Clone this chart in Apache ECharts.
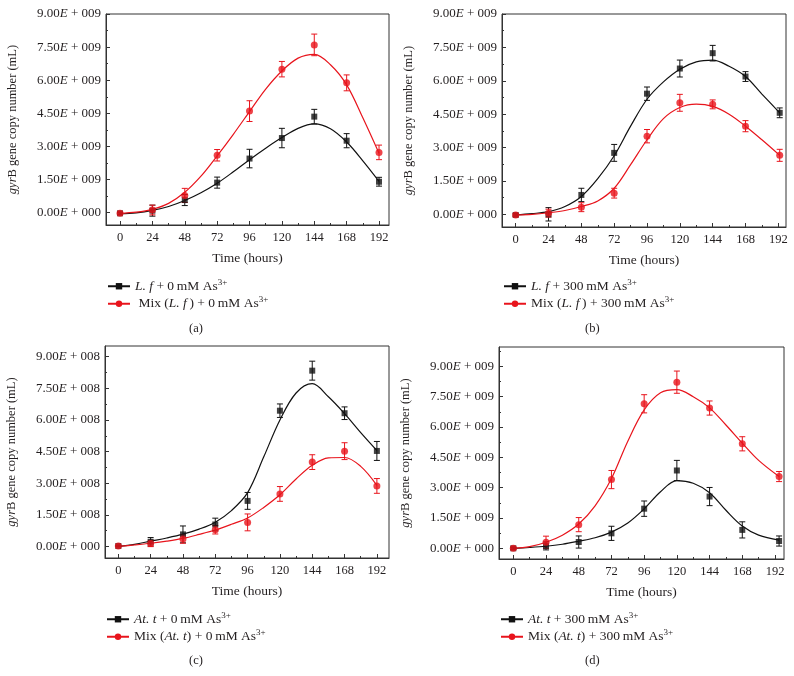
<!DOCTYPE html>
<html>
<head>
<meta charset="utf-8">
<script src="https://cdn.jsdelivr.net/npm/echarts@6/dist/echarts.min.js"></script>
<style>
html,body{margin:0;padding:0;background:#fff;}
#chart{width:794px;height:676px;}
</style>
</head>
<body>
<div id="chart"></div>
<script>
// ---------------- DATA ----------------
// Sampling times (hours)
var timesA = [0, 24, 48, 72, 96, 120, 144, 168, 192];
var timesB = [0, 24, 48, 72, 96, 120, 144, 168, 193];
var timesC = [0, 24, 48, 72, 96, 120, 144, 168, 192];
var timesD = [0, 24, 48, 72, 96, 120, 144, 168, 195];

// Fitted-curve sample times (hours)
var fitTimesA = [0, 12, 24, 36, 48, 60, 72, 84, 96, 108, 120, 132, 144, 156, 168, 180, 192];
var fitTimesB = [0, 12, 24, 36, 48, 60, 72, 84, 96, 108, 120, 132, 144, 156, 168, 180, 193];
var fitTimesC = [0, 12, 24, 36, 48, 60, 72, 84, 96, 108, 120, 132, 144, 156, 168, 180, 192];
var fitTimesD = [0, 12, 24, 36, 48, 60, 72, 84, 96, 108, 120, 132, 144, 156, 168, 180, 195];

// (a) values in units of 1E+009
var aBlack    = [-0.03, 0.09, 0.57, 1.36, 2.45, 3.38, 4.35, 3.26, 1.40];
var aBlackErr = [0.05, 0.25, 0.25, 0.25, 0.42, 0.44, 0.33, 0.32, 0.20];
var aRed      = [-0.03, 0.12, 0.78, 2.60, 4.60, 6.50, 7.60, 5.88, 2.73];
var aRedErr   = [0.05, 0.22, 0.32, 0.26, 0.47, 0.35, 0.49, 0.36, 0.33];
var aBlackFit = [-0.05, -0.01, 0.10, 0.28, 0.55, 0.90, 1.33, 1.85, 2.40, 2.92, 3.40, 3.82, 4.02, 3.80, 3.20, 2.35, 1.42];
var aRedFit   = [-0.03, 0.02, 0.15, 0.42, 0.92, 1.65, 2.57, 3.55, 4.58, 5.60, 6.42, 7.00, 7.17, 6.70, 5.79, 4.30, 2.69];

// (b) values in units of 1E+009
var bBlack    = [-0.03, 0.00, 0.87, 2.76, 5.42, 6.55, 7.24, 6.19, 4.56];
var bBlackErr = [0.05, 0.30, 0.30, 0.38, 0.30, 0.38, 0.35, 0.22, 0.22];
var bRed      = [-0.03, 0.05, 0.32, 0.95, 3.51, 5.01, 4.94, 3.96, 2.65];
var bRedErr   = [0.05, 0.18, 0.20, 0.22, 0.30, 0.38, 0.20, 0.25, 0.27];
var bBlackFit = [-0.03, 0.03, 0.12, 0.35, 0.80, 1.60, 2.63, 3.96, 5.17, 5.95, 6.52, 6.85, 6.93, 6.65, 6.19, 5.40, 4.56];
var bRedFit   = [-0.03, 0.00, 0.07, 0.17, 0.35, 0.60, 1.17, 2.23, 3.35, 4.30, 4.80, 4.95, 4.85, 4.50, 3.96, 3.35, 2.65];

// (c) values in units of 1E+008
var cBlack    = [0.02, 0.22, 0.57, 1.04, 2.16, 6.44, 8.34, 6.32, 4.53];
var cBlackErr = [0.03, 0.20, 0.40, 0.30, 0.40, 0.32, 0.45, 0.30, 0.45];
var cRed      = [0.02, 0.14, 0.35, 0.79, 1.14, 2.49, 4.00, 4.52, 2.87];
var cRedErr   = [0.03, 0.15, 0.20, 0.20, 0.40, 0.35, 0.35, 0.40, 0.35];
var cBlackFit = [0.00, 0.10, 0.25, 0.40, 0.58, 0.82, 1.15, 1.70, 2.55, 4.25, 6.00, 7.28, 7.72, 7.10, 6.30, 5.40, 4.55];
var cRedFit   = [0.00, 0.07, 0.15, 0.25, 0.38, 0.57, 0.78, 1.05, 1.35, 1.85, 2.45, 3.20, 3.85, 4.20, 4.22, 3.80, 2.90];

// (d) values in units of 1E+009
var dBlack    = [0.00, 0.12, 0.31, 0.74, 1.96, 3.85, 2.56, 0.91, 0.36];
var dBlackErr = [0.05, 0.20, 0.30, 0.35, 0.38, 0.50, 0.45, 0.40, 0.25];
var dRed      = [0.00, 0.30, 1.17, 3.40, 7.15, 8.22, 6.94, 5.17, 3.55];
var dRedErr   = [0.05, 0.30, 0.35, 0.45, 0.45, 0.55, 0.35, 0.35, 0.25];
var dBlackFit = [0.00, 0.04, 0.10, 0.20, 0.35, 0.52, 0.80, 1.25, 1.95, 2.80, 3.35, 3.22, 2.75, 1.88, 1.10, 0.65, 0.40];
var dRedFit   = [0.00, 0.08, 0.30, 0.65, 1.20, 2.10, 3.45, 5.30, 6.85, 7.70, 7.85, 7.50, 6.95, 6.10, 5.20, 4.35, 3.55];

// Tick values and labels
var xTicks = [0, 24, 48, 72, 96, 120, 144, 168, 192];
var xTickLabels = ['0', '24', '48', '72', '96', '120', '144', '168', '192'];
var xMinorTicks = [12, 36, 60, 84, 108, 132, 156, 180];
var yTicks = [0, 1.5, 3, 4.5, 6, 7.5, 9];
var yMinorTicks = [0.75, 2.25, 3.75, 5.25, 6.75, 8.25, 9.75];
var yLabels9 = ['0.00E + 000', '1.50E + 009', '3.00E + 009', '4.50E + 009', '6.00E + 009', '7.50E + 009', '9.00E + 009'];
var yLabels8 = ['0.00E + 000', '1.50E + 008', '3.00E + 008', '4.50E + 008', '6.00E + 008', '7.50E + 008', '9.00E + 008'];

var legendA = ['{i|L. f} + 0\u2009mM As{sup|3+}', ' Mix ({i|L. f}\u2009) + 0\u2009mM As{sup|3+}'];
var legendB = ['{i|L. f} + 300\u2009mM As{sup|3+}', 'Mix ({i|L. f}\u2009) + 300\u2009mM As{sup|3+}'];
var legendC = ['{i|At. t} + 0\u2009mM As{sup|3+}', 'Mix ({i|At. t}) + 0\u2009mM As{sup|3+}'];
var legendD = ['{i|At. t} + 300\u2009mM As{sup|3+}', 'Mix ({i|At. t}) + 300\u2009mM As{sup|3+}'];
var panelLabels = ['(a)', '(b)', '(c)', '(d)'];

// ---------------- LAYOUT / STYLE ----------------
var FONT = '"Liberation Serif", "Times New Roman", serif';
var TXT = '#231f20';
var BLACK = '#111111';
var RED = '#e8141c';

var panels = [
  {grid: {left: 106, top: 14, width: 283, height: 211}, xr: [-10.4, 199.4], yr: [-0.56, 9.0], yl: yLabels9,
   t: timesA, ft: fitTimesA, k: aBlack, ke: aBlackErr, r: aRed, re: aRedErr, kf: aBlackFit, rf: aRedFit, leg: legendA,
   legPos: {left: 107, top: 278}, lab: [197, 330]},
  {grid: {left: 502, top: 14, width: 284, height: 213}, xr: [-10.0, 197.6], yr: [-0.57, 9.0], yl: yLabels9,
   t: timesB, ft: fitTimesB, k: bBlack, ke: bBlackErr, r: bRed, re: bRedErr, kf: bBlackFit, rf: bRedFit, leg: legendB,
   legPos: {left: 503, top: 278}, lab: [593, 330]},
  {grid: {left: 105, top: 346, width: 284, height: 212}, xr: [-9.9, 201.0], yr: [-0.55, 9.51], yl: yLabels8,
   t: timesC, ft: fitTimesC, k: cBlack, ke: cBlackErr, r: cRed, re: cRedErr, kf: cBlackFit, rf: cRedFit, leg: legendC,
   legPos: {left: 106, top: 611}, lab: [197, 662]},
  {grid: {left: 499, top: 347, width: 285, height: 212}, xr: [-10.5, 198.6], yr: [-0.53, 9.96], yl: yLabels9,
   t: timesD, ft: fitTimesD, k: dBlack, ke: dBlackErr, r: dRed, re: dRedErr, kf: dBlackFit, rf: dRedFit, leg: legendD,
   legPos: {left: 500, top: 611}, lab: [593, 662]}
];

var grids = [], xAxes = [], yAxes = [], series = [], legends = [], graphics = [];

function pairs(xs, ys) { return xs.map(function (x, i) { return [x, ys[i]]; }); }
function errs(xs, ys, es) { return xs.map(function (x, i) { return [x, ys[i] - es[i], ys[i] + es[i]]; }); }

function errorBarSeries(xi, yi, data, color) {
  return {
    type: 'custom', xAxisIndex: xi, yAxisIndex: yi, z: 3, silent: true,
    renderItem: function (params, api) {
      var x = api.value(0);
      var lo = api.coord([x, api.value(1)]);
      var hi = api.coord([x, api.value(2)]);
      var w = 3;
      var st = {stroke: color, lineWidth: 1};
      return {type: 'group', children: [
        {type: 'line', shape: {x1: lo[0], y1: lo[1], x2: hi[0], y2: hi[1]}, style: st},
        {type: 'line', shape: {x1: lo[0] - w, y1: lo[1], x2: lo[0] + w, y2: lo[1]}, style: st},
        {type: 'line', shape: {x1: hi[0] - w, y1: hi[1], x2: hi[0] + w, y2: hi[1]}, style: st}
      ]};
    },
    data: data
  };
}

function richFor(size) {
  return {
    i: {fontStyle: 'italic', fontFamily: FONT, fontSize: size, color: TXT, lineHeight: size + 3},
    sup: {fontFamily: FONT, fontSize: Math.round(size * 0.68), color: TXT, verticalAlign: 'top', lineHeight: 8}
  };
}

panels.forEach(function (p, gi) {
  grids.push(Object.assign({show: true, borderColor: '#333', borderWidth: 1, backgroundColor: 'transparent'}, p.grid));
  var xi = xAxes.length, yi = yAxes.length;
  xAxes.push({
    type: 'value', gridIndex: gi, min: p.xr[0], max: p.xr[1], position: 'bottom',
    name: 'Time (hours)', nameLocation: 'middle', nameGap: 26,
    nameTextStyle: {fontFamily: FONT, fontSize: 13.5, color: TXT},
    axisLine: {show: true, onZero: false, lineStyle: {color: '#333', width: 1}},
    axisTick: {show: true, inside: true, length: 4, customValues: xTicks, lineStyle: {color: '#333'}},
    axisLabel: {show: true, margin: 6, customValues: xTicks, fontFamily: FONT, fontSize: 12.5, color: TXT,
      formatter: function (v) { var k = xTicks.indexOf(v); return k >= 0 ? xTickLabels[k] : ''; }},
    splitLine: {show: false}
  });
  xAxes.push({
    type: 'value', gridIndex: gi, min: p.xr[0], max: p.xr[1], position: 'bottom',
    axisLine: {show: false, onZero: false},
    axisTick: {show: true, inside: true, length: 2, customValues: xMinorTicks, lineStyle: {color: '#333'}},
    axisLabel: {show: false}, splitLine: {show: false}
  });
  var labels = p.yl;
  yAxes.push({
    type: 'value', gridIndex: gi, min: p.yr[0], max: p.yr[1], position: 'left',
    name: '{i|gyr}B gene copy number (mL)', nameLocation: 'middle', nameGap: 86, nameRotate: 90,
    nameTextStyle: {fontFamily: FONT, fontSize: 12.5, color: TXT, rich: richFor(12.5)},
    axisLine: {show: true, onZero: false, lineStyle: {color: '#333', width: 1}},
    axisTick: {show: true, inside: true, length: 4, customValues: yTicks, lineStyle: {color: '#333'}},
    axisLabel: {show: true, margin: 5, customValues: yTicks, fontFamily: FONT, fontSize: 13, color: TXT,
      rich: richFor(13),
      formatter: function (v) {
        for (var k = 0; k < yTicks.length; k++) {
          if (Math.abs(yTicks[k] - v) < 1e-9) return labels[k].replace('E', '{i|E}');
        }
        return '';
      }},
    splitLine: {show: false}
  });
  yAxes.push({
    type: 'value', gridIndex: gi, min: p.yr[0], max: p.yr[1], position: 'left',
    axisLine: {show: false, onZero: false},
    axisTick: {show: true, inside: true, length: 2, customValues: yMinorTicks.filter(function (v) { return v < p.yr[1]; }), lineStyle: {color: '#333'}},
    axisLabel: {show: false}, splitLine: {show: false}
  });

  var nk = 'k' + gi, nr = 'r' + gi;
  series.push({
    name: nk, type: 'line', xAxisIndex: xi, yAxisIndex: yi, data: pairs(p.ft, p.kf),
    smooth: 0.35, showSymbol: false, symbol: 'rect', symbolSize: 6, z: 2, silent: true,
    lineStyle: {color: BLACK, width: 1.2}, itemStyle: {color: BLACK}
  });
  series.push({
    name: nr, type: 'line', xAxisIndex: xi, yAxisIndex: yi, data: pairs(p.ft, p.rf),
    smooth: 0.35, showSymbol: false, symbol: 'circle', symbolSize: 7, z: 2, silent: true,
    lineStyle: {color: RED, width: 1.2}, itemStyle: {color: RED}
  });
  series.push(errorBarSeries(xi, yi, errs(p.t, p.k, p.ke), BLACK));
  series.push(errorBarSeries(xi, yi, errs(p.t, p.r, p.re), RED));
  series.push({
    name: nk + 'pts', type: 'scatter', xAxisIndex: xi, yAxisIndex: yi, data: pairs(p.t, p.k),
    symbol: 'rect', symbolSize: 6, itemStyle: {color: BLACK}, z: 4, silent: true
  });
  series.push({
    name: nr + 'pts', type: 'scatter', xAxisIndex: xi, yAxisIndex: yi, data: pairs(p.t, p.r),
    symbol: 'circle', symbolSize: 7, itemStyle: {color: RED}, z: 4, silent: true
  });

  var legMap = {};
  legMap[nk] = p.leg[0];
  legMap[nr] = p.leg[1];
  legends.push({
    data: [nk, nr], orient: 'vertical', left: p.legPos.left, top: p.legPos.top,
    itemWidth: 22, itemHeight: 8, itemGap: 1, padding: 0, selectedMode: false,
    formatter: function (name) { return legMap[name]; },
    textStyle: {fontFamily: FONT, fontSize: 13.5, color: TXT, lineHeight: 16, rich: richFor(13.5)}
  });

  graphics.push({
    type: 'text', left: p.lab[0] - 8, top: p.lab[1] - 8,
    style: {text: panelLabels[gi], font: '12.5px ' + FONT, fill: TXT}
  });
});

var chart = echarts.init(document.getElementById('chart'), null, {renderer: 'canvas'});
chart.setOption({
  animation: false,
  backgroundColor: '#ffffff',
  grid: grids,
  xAxis: xAxes,
  yAxis: yAxes,
  legend: legends,
  series: series,
  graphic: graphics
});
</script>
</body>
</html>
